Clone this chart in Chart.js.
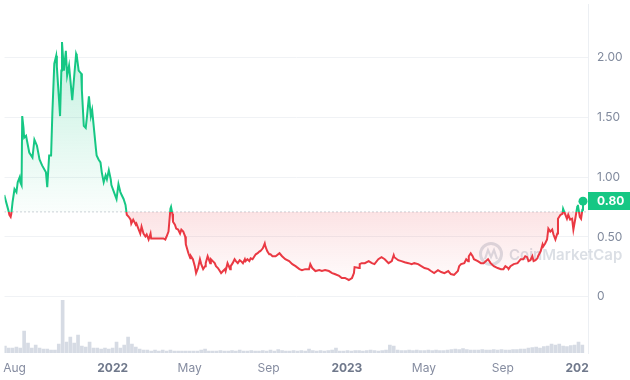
<!DOCTYPE html>
<html>
<head>
<meta charset="utf-8">
<script src="https://cdn.jsdelivr.net/npm/chart.js@4.4.1/dist/chart.umd.min.js"></script>
<style>
html,body{margin:0;padding:0;background:#fff;}
#wrap{width:630px;height:380px;position:relative;}
</style>
</head>
<body>
<div id="wrap"><canvas id="c" width="630" height="380"></canvas></div>
<script>
// ---------- DATA ----------
const startDate = '2021-07-15';               // day 0 of the day offsets below
const priceDays = [1,6,8,9,11,12,14,17,20,22,25,26,28,29,31,32,35,40,45,48,52,56,60,66,68,71,74,76,79,82,83,86,88,90,91,94,97,99,102,105,107,110,113,114,117,121,122,125,128,130,133,136,138,141,144,145,148,151,153,156,159,161,164,167,168,172,176,179,182,184,187,190,192,
195,198,199,202,206,207,210,213,215,218,221,223,226,229,230,233,241,249,252,254,257,260,261,263,264,267,269,272,275,277,280,283,284,288,291,292,295,298,300,303,306,308,311,314,315,318,322,323,326,329,331,334,337,339,342,345,346,349,353,354,357,360,362,365,368,370,373,376,377,380,383,385,388,391,393,396,399,400,404,407,408,411,414,416,419,424,430,434,439,445,450,455,461,465,470,476,478,481,486,492,496,501,507,512,516,523,527,532,538,543,546,547,554,555,558,563,569,574,578,584,589,594,600,605,608,609,615,620,625,631,636,640,646,651,656,662,666,671,677,682,687,693,697,702,708,710,713,718,721,724,725,728,731,733,739,744,748,755,759,764,770,775,779,782,786,787,790,795,801,806,810,813,816,818,821,824,826,829,832,833,837,840,841,844,847,849,852,855,857,860,863,864,868,871,872,875,878,880,883,886,888,891,894,895,898,900,902,903];
const prices = [0.851,0.752,0.711,0.686,0.669,0.694,0.793,0.901,0.876,0.959,1.000,0.959,0.934,1.512,1.413,1.331,1.347,1.207,1.165,1.314,1.264,1.149,1.099,1.041,0.917,1.182,1.182,1.537,1.950,2.017,1.926,1.678,1.512,1.893,2.132,1.893,2.058,1.851,1.934,1.760,1.645,1.843,2.033,2.017,1.893,1.868,1.727,1.430,1.413,1.512,1.678,1.512,1.562,1.397,1.231,1.182,1.149,1.124,1.041,0.959,1.017,0.983,1.058,0.983,0.934,0.876,0.818,0.942,0.876,0.851,0.818,0.769,0.686,
0.669,0.645,0.612,0.645,0.603,0.612,0.570,0.529,0.587,0.529,0.504,0.521,0.479,0.529,0.488,0.488,0.488,0.488,0.479,0.504,0.545,0.736,0.752,0.694,0.628,0.603,0.570,0.562,0.529,0.562,0.545,0.504,0.438,0.364,0.322,0.339,0.314,0.256,0.198,0.240,0.314,0.273,0.231,0.256,0.281,0.339,0.281,0.314,0.298,0.281,0.256,0.240,0.215,0.198,0.215,0.231,0.215,0.281,0.231,0.256,0.281,0.314,0.298,0.281,0.306,0.298,0.281,0.314,0.298,0.314,0.298,0.322,0.314,0.339,0.355,0.364,0.380,0.380,0.405,0.446,0.421,0.380,0.355,0.355,0.339,0.339,0.364,0.339,0.314,0.298,0.273,0.256,0.231,0.223,0.231,0.231,0.273,0.240,0.215,0.223,0.215,0.223,0.215,0.198,0.190,0.174,0.157,0.157,0.140,0.157,0.198,0.248,0.240,0.273,0.281,0.281,0.298,0.281,0.273,0.314,0.331,0.314,0.281,0.298,0.347,0.331,0.306,0.298,0.289,0.281,0.273,0.281,0.273,0.256,0.240,0.231,0.215,0.198,0.223,0.207,0.198,0.215,0.190,0.182,0.215,0.256,0.273,0.281,0.314,0.298,0.339,0.364,0.339,0.314,0.298,0.281,0.281,0.314,0.281,0.256,0.240,0.231,0.231,0.256,0.240,0.231,0.256,0.273,0.281,0.314,0.314,0.339,0.331,0.298,0.306,0.339,0.298,0.306,0.322,0.339,0.380,0.438,0.421,0.446,0.479,0.570,0.545,0.562,0.521,0.479,0.529,0.653,0.686,0.694,0.736,0.694,0.653,0.686,0.645,0.653,0.562,0.653,0.752,0.769,0.669,0.653,0.727,0.80];
const baselinePrice = 0.71;                   // opening price of the range (dotted line)
const currentPriceLabel = '0.80';
const volumeStartDay = 2, volumeStepDays = 6; // one volume bar every 6 days
const volumes = [1.4,1.0,1.0,1.2,1.0,4.4,2.0,1.0,1.6,1.0,0.8,0.8,0.6,0.6,1.8,10.6,2.2,3.2,2.0,3.6,1.4,1.2,2.2,1.0,1.0,0.8,1.0,0.8,1.0,2.2,1.0,1.6,3.2,1.8,1.2,0.8,0.6,0.6,0.4,0.6,0.4,0.6,0.4,0.6,0.4,0.4,0.4,0.4,0.4,0.4,0.4,0.6,0.8,0.4,0.4,
0.4,0.5,0.4,0.4,0.5,0.4,0.6,0.4,0.4,0.5,0.4,0.4,0.5,0.4,0.6,0.4,0.7,0.5,0.4,0.4,0.5,0.4,0.5,0.4,0.8,0.5,0.4,0.5,0.4,0.5,0.6,1.0,0.4,0.4,0.5,0.4,0.5,0.5,0.4,0.5,0.6,0.5,0.4,0.5,0.6,1.6,1.4,0.6,0.5,0.5,0.6,0.5,0.6,0.5,0.5,0.6,0.5,0.6,0.5,0.5,0.6,0.7,0.8,0.7,0.9,0.7,0.6,0.6,0.6,0.7,0.6,0.6,0.7,0.6,0.7,0.6,0.6,0.7,0.7,0.8,0.8,1.0,1.1,1.2,1.0,1.3,1.4,1.8,1.6,1.8,1.4,1.3,1.5,1.6,2.2,1.6];
const yTickValues = [0, 0.5, 1, 1.5, 2];
const xTickDates = ['2021-08-01','2022-01-01','2022-05-01','2022-09-01','2023-01-01','2023-05-01','2023-09-01','2024-01-01'];
const xTickLabels = ['Aug','2022','May','Sep','2023','May','Sep','2024'];

// ---------- HELPERS ----------
const DAY = 86400000;
const dayOf = s => Math.round((Date.parse(s) - Date.parse(startDate)) / DAY);
const isYear = i => /^\d{4}$/.test(xTickLabels[i] || '');
const GREEN = '#16c784', RED = '#ea3943';
const n = Math.min(priceDays.length, prices.length);
if (priceDays.length !== prices.length) console.error('length mismatch', priceDays.length, prices.length);
const pricePoints = [];
for (let i = 0; i < n; i++) pricePoints.push({x: priceDays[i], y: prices[i]});
const volumePoints = volumes.map((v, i) => ({x: volumeStartDay + i * volumeStepDays, y: v}));
const xMin = 1.4, xMax = 910.8;

function makeGrad(chart, kind) {
  const a = chart.chartArea, ys = chart.scales.y;
  if (!a || !ys) return kind === 'line' ? RED : 'rgba(0,0,0,0)';
  const top = a.top, h = a.bottom - a.top;
  const frac = v => Math.min(1, Math.max(0, (ys.getPixelForValue(v) - top) / h));
  const f = frac(baselinePrice);
  const g = chart.ctx.createLinearGradient(0, top, 0, a.bottom);
  if (kind === 'line') {
    g.addColorStop(0, GREEN); g.addColorStop(f, GREEN);
    g.addColorStop(f, RED); g.addColorStop(1, RED);
  } else {
    const fHi = frac(Math.max(...prices)), fLo = frac(Math.min(...prices));
    g.addColorStop(0, 'rgba(22,199,132,0.30)');
    g.addColorStop(fHi, 'rgba(22,199,132,0.26)');
    g.addColorStop(f, 'rgba(22,199,132,0.02)');
    g.addColorStop(f, 'rgba(234,57,67,0.14)');
    g.addColorStop(fLo, 'rgba(234,57,67,0.02)');
    g.addColorStop(1, 'rgba(234,57,67,0)');
  }
  return g;
}

const decor = {
  id: 'decor',
  beforeDatasetsDraw(chart) {
    const {ctx} = chart;
    ctx.save();
    ctx.strokeStyle = 'rgba(175,183,198,0.45)';
    ctx.fillStyle = 'rgba(175,183,198,0.45)';
    ctx.lineWidth = 3;
    ctx.beginPath(); ctx.arc(491, 254, 10.5, 0, Math.PI * 2); ctx.stroke();
    ctx.lineWidth = 2.2;
    ctx.beginPath(); ctx.moveTo(485, 259); ctx.lineTo(488, 250); ctx.lineTo(491, 257); ctx.lineTo(494, 250); ctx.lineTo(497, 259); ctx.stroke();
    ctx.font = '600 15px Inter';
    ctx.textBaseline = 'middle'; ctx.textAlign = 'left';
    ctx.fillText('CoinMarketCap', 509, 255);
    ctx.restore();
  },
  afterDatasetsDraw(chart) {
    const {ctx, chartArea: a, scales} = chart;
    const py = scales.y.getPixelForValue(prices[n - 1]);
    ctx.save();
    ctx.fillStyle = GREEN;
    ctx.fillRect(a.right, Math.round(py) - 9, chart.width - a.right, 18);
    ctx.fillStyle = '#ffffff';
    ctx.font = 'bold 12px Inter';
    ctx.textBaseline = 'middle'; ctx.textAlign = 'left';
    ctx.fillText(currentPriceLabel, a.right + 9, Math.round(py) + 0.5);
    ctx.restore();
  },
  afterDraw(chart) {
    const {ctx, chartArea: a} = chart;
    ctx.save();
    ctx.fillStyle = '#ffffff';
    ctx.fillRect(a.right + 1, a.bottom + 1, chart.width - a.right, chart.height - a.bottom);
    ctx.restore();
  }
};

Chart.defaults.font.family = 'Inter, "Noto Sans", sans-serif';

new Chart(document.getElementById('c'), {
  data: {
    datasets: [
      {
        type: 'line', label: 'Price', data: pricePoints, order: 0,
        borderWidth: 2, tension: 0,
        borderColor: ctx => makeGrad(ctx.chart, 'line'),
        backgroundColor: ctx => makeGrad(ctx.chart, 'fill'),
        fill: {value: baselinePrice},
        pointRadius: ctx => ctx.dataIndex === n - 1 ? 4.5 : 0,
        pointBackgroundColor: GREEN, pointBorderColor: GREEN, pointBorderWidth: 0,
        pointHoverRadius: 0,
        xAxisID: 'x', yAxisID: 'y'
      },
      {
        type: 'line', label: 'Open', order: 1,
        data: [{x: xMin, y: baselinePrice}, {x: xMax, y: baselinePrice}],
        borderColor: '#9aa1af', borderWidth: 1, borderDash: [1, 3],
        pointRadius: 0, fill: false,
        xAxisID: 'x', yAxisID: 'y'
      },
      {
        type: 'bar', label: 'Volume', data: volumePoints, order: 2,
        backgroundColor: '#d6dbe4', barThickness: 3,
        xAxisID: 'x', yAxisID: 'yv'
      }
    ]
  },
  options: {
    responsive: false, animation: false, devicePixelRatio: 1,
    layout: {padding: 0},
    plugins: {legend: {display: false}, tooltip: {enabled: false}},
    scales: {
      x: {
        type: 'linear', min: xMin, max: xMax, offset: false,
        grid: {display: false, drawTicks: false, offset: false},
        border: {display: false},
        afterBuildTicks: s => { s.ticks = xTickDates.map(d => ({value: dayOf(d)})); },
        afterFit: s => { s.height = 27; s.paddingLeft = 0; s.paddingRight = 0; },
        ticks: {
          autoSkip: false, maxRotation: 0, padding: 8,
          callback: (v, i) => xTickLabels[i],
          font: c => ({size: 12, weight: isYear(c.index) ? 'bold' : 'normal'}),
          color: c => isYear(c.index) ? '#6f788b' : '#858ca0'
        }
      },
      y: {
        type: 'linear', position: 'right', min: -0.471, max: 2.446,
        grid: {color: '#f0f2f5', drawTicks: false},
        border: {display: true, color: '#eceff3'},
        afterBuildTicks: s => { s.ticks = yTickValues.map(v => ({value: v})); },
        afterFit: s => { s.width = 42; s.paddingTop = 0; s.paddingBottom = 0; },
        ticks: {
          padding: 9, color: '#808a9d', font: {size: 12},
          callback: v => v === 0 ? '0' : v.toFixed(2)
        }
      },
      yv: {type: 'linear', display: false, min: 0, max: 70}
    }
  },
  plugins: [decor]
});
</script>
</body>
</html>
